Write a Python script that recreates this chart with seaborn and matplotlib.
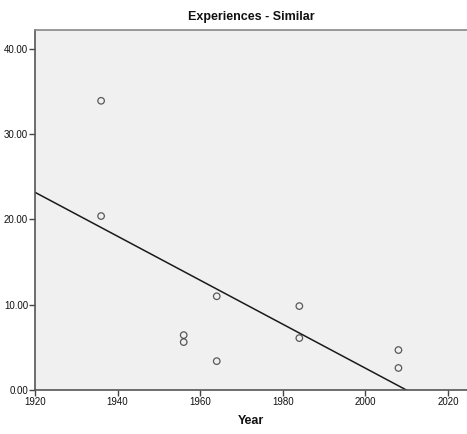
import matplotlib
matplotlib.use("Agg")
import matplotlib.pyplot as plt
import seaborn as sns
import pandas as pd
from matplotlib.ticker import FormatStrFormatter

years = [1936, 1936, 1956, 1956, 1964, 1964, 1984, 1984, 2008, 2008]
values = [33.9, 20.4, 6.45, 5.63, 11.0, 3.4, 9.85, 6.1, 4.7, 2.6]
xticks = [1920, 1940, 1960, 1980, 2000, 2020]
yticks = [0, 10, 20, 30, 40]

df = pd.DataFrame({"Year": years, "Value": values})

sns.set_style("white")
plt.rcParams["font.family"] = ["Liberation Sans", "DejaVu Sans"]

fig = plt.figure(figsize=(4.67, 4.34), dpi=100)
ax = fig.add_axes([0.075, 0.101, 0.925, 0.830])
ax.set_facecolor("#f0f0f0")
ax.set_xlim(1920, 2024.6)
ax.set_ylim(0, 42.2)

sns.regplot(data=df, x="Year", y="Value", ax=ax, ci=None, truncate=False,
            scatter_kws=dict(facecolors="none", edgecolors="#333333", s=22, linewidths=0.9),
            line_kws=dict(color="#1a1a1a", linewidth=1.1))

ax.set_xlim(1920, 2024.6)
ax.set_ylim(0, 42.2)
ax.set_xticks(xticks)
ax.set_yticks(yticks)
ax.yaxis.set_major_formatter(FormatStrFormatter("%.2f"))
ax.tick_params(axis="both", direction="out", length=4, width=1, color="#444444",
               labelsize=7, pad=1, labelcolor="#111111", left=True, bottom=True)

for side in ["left", "bottom"]:
    ax.spines[side].set_color("#555555")
    ax.spines[side].set_linewidth(1.2)
ax.spines["top"].set_color("#888888")
ax.spines["top"].set_linewidth(1.2)
ax.spines["right"].set_visible(False)

ax.set_ylabel("")
ax.set_xlabel("Year", fontsize=9, fontweight="bold", labelpad=6, color="#111111")
ax.set_title("Experiences - Similar", fontsize=9, fontweight="bold", pad=7, color="#111111")

fig.savefig("out.png", dpi=100)
